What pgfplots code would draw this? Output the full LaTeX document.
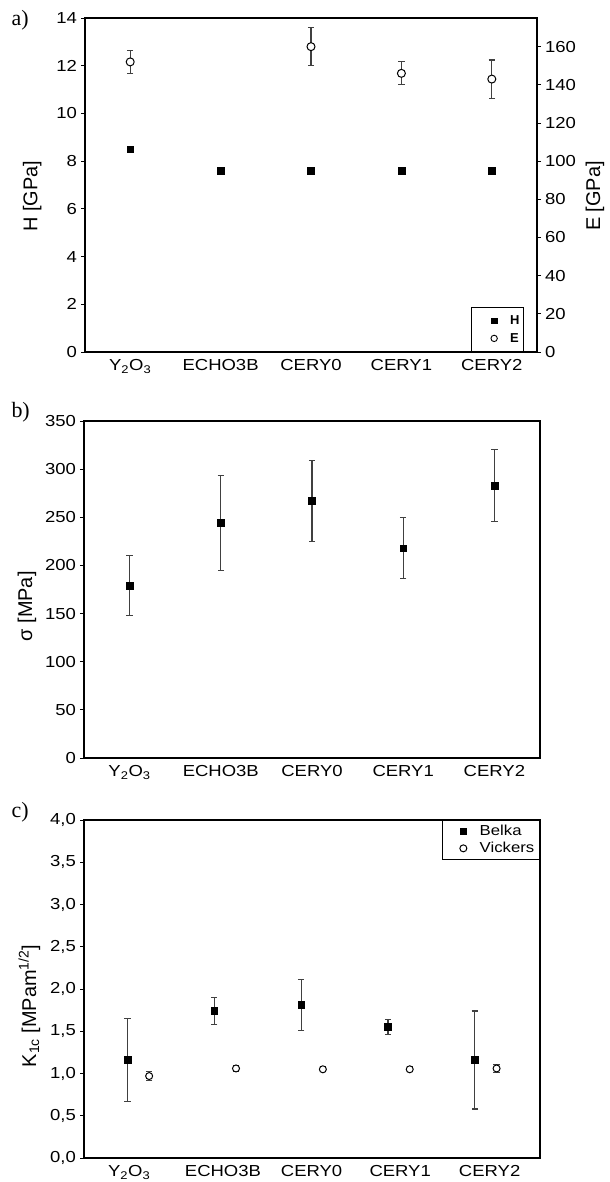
\documentclass[border=0pt]{standalone}
\usepackage{fontspec}
\setmainfont{Liberation Sans}
\newfontfamily\serifpanel{Liberation Serif}
\usepackage{pgfplots}
\usepackage{pgfplotstable}
\pgfplotsset{compat=1.18}

% panel a
\pgfplotstableread{
x y
1 8.5
2 7.6
3 7.6
4 7.6
5 7.6
}\Hdata
\pgfplotstableread{
x y ey
1 152 6
3 160 10
4 146 6
5 143 10
}\Edata
% panel b
\pgfplotstableread{
x y ey
1 179 31
2 244 49
3 267 42
4 218 32
5 283 37
}\Sdata
% panel c
\pgfplotstableread{
x y ey
1 1.16 0.49
2 1.74 0.16
3 1.81 0.30
4 1.55 0.09
5 1.16 0.58
}\Bdata
\pgfplotstableread{
x y ey
1.25 0.97 0.05
2.25 1.06 0.04
3.25 1.05 0.03
4.25 1.05 0.03
5.25 1.06 0.05
}\Vdata

\pgfplotsset{
  panel/.style={
    scale only axis,
    xmin=0.5, xmax=5.5,
    xtick={1,2,3,4,5},
    xticklabels={Y\textsubscript{2}O\textsubscript{3},ECHO3B,CERY0,CERY1,CERY2},
    major x tick style={draw=none},
    ytick pos=left,
    tick align=outside,
    major tick length=4bp,
    tick style={black, line width=0.9bp},
    axis line style={line width=1.2bp},
    tick label style={font=\fontsize{16}{19}\selectfont, xscale=1.16},
    label style={font=\fontsize{20}{23}\selectfont},
    /pgf/number format/assume math mode=true,
    clip=false,
  },
  sq/.style={only marks, mark=square*, mark size=3.4bp, black},
  circ/.style={only marks, mark=*, mark size=4bp, black, mark options={fill=white, line width=1bp}},
  ebar/.style={error bars/.cd, y dir=both, y explicit,
    error bar style={line width=1.1bp, black!75},
    error mark options={rotate=90, mark size=3.2bp, line width=1.1bp, black!75},
    /pgfplots/.cd},
}

\begin{document}
\begin{tikzpicture}
\path[use as bounding box] (0,0) rectangle (610bp,-1182bp);

\node[font=\serifpanel\fontsize{22}{24}\selectfont, anchor=west] at (8bp,-20bp) {a)};
\node[font=\serifpanel\fontsize{22}{24}\selectfont, anchor=west] at (8bp,-412bp) {b)};
\node[font=\serifpanel\fontsize{22}{24}\selectfont, anchor=west] at (8bp,-812bp) {c)};

% ---- a) H
\begin{axis}[panel,
  at={(85bp,-352bp)}, anchor=south west,
  width=452bp, height=334bp,
  ymin=0, ymax=14, ytick={0,2,...,14},
  ylabel={H [GPa]},
  ylabel style={at={(axis description cs:-0.117,0.467)}, anchor=center},
]
\addplot[sq] table[x=x, y=y] {\Hdata};
\end{axis}

% ---- a) E
\begin{axis}[panel,
  at={(85bp,-352bp)}, anchor=south west,
  width=452bp, height=334bp,
  axis x line=none, axis y line*=right, ytick pos=right,
  ymin=0, ymax=175, ytick={0,20,...,160},
  ylabel={E [GPa]},
  ylabel style={at={(axis description cs:1.128,0.467)}, anchor=center},
  legend style={at={(0.971,0)}, anchor=south east, draw=black, line width=0.8bp,
    font=\bfseries\fontsize{13}{15}\selectfont, inner xsep=2bp, inner ysep=6bp,
    row sep=3bp},
  legend image code/.code={\path[draw=none] (-21bp,0) -- (14bp,0); \draw[#1] plot[only marks] coordinates {(0bp,0bp)};},
  legend cell align=left,
]
\addlegendimage{only marks, mark=square*, mark size=2.8bp, black}
\addlegendentry{H}
\addplot[circ, forget plot, ebar] table[x=x, y=y, y error=ey] {\Edata};
\addlegendimage{only marks, mark=*, mark size=3.2bp, black, mark options={fill=white, line width=0.9bp}}
\addlegendentry{E}
\end{axis}

% ---- b)
\begin{axis}[panel,
  at={(84bp,-758bp)}, anchor=south west,
  width=456bp, height=337bp,
  ymin=0, ymax=350, ytick={0,50,...,350},
  ylabel={σ [MPa]},
  ylabel style={at={(axis description cs:-0.125,0.45)}, anchor=center},
]
\addplot[sq, ebar] table[x=x, y=y, y error=ey] {\Sdata};
\end{axis}

% ---- c)
\begin{axis}[panel,
  at={(84bp,-1158bp)}, anchor=south west,
  width=456bp, height=338bp,
  xmin=0.5, xmax=5.75,
  xtick={1.02,2.10,3.12,4.14,5.17},
  xticklabels={Y\textsubscript{2}O\textsubscript{3},ECHO3B,CERY0,CERY1,\raisebox{3bp}{CERY2}},
  ymin=0, ymax=4, ytick={0,0.5,...,4},
  yticklabel style={/pgf/number format/.cd, use comma, fixed, fixed zerofill, precision=1},
  ylabel={K\textsubscript{1c} [MPam\textsuperscript{1/2}]},
  ylabel style={at={(axis description cs:-0.12,0.45)}, anchor=center},
  legend style={at={(1,1)}, anchor=north east, draw=black, line width=0.8bp,
    font=\fontsize{14.5}{17}\selectfont, inner xsep=3bp, inner ysep=3bp, row sep=1bp,
    nodes={xscale=1.16}},
  legend image code/.code={\path[draw=none] (-18bp,0) -- (14bp,0); \draw[#1] plot[only marks] coordinates {(0bp,0bp)};},
  legend cell align=left,
]
\addplot[sq, ebar] table[x=x, y=y, y error=ey] {\Bdata};
\addlegendentry{Belka}
\addplot[circ, mark size=3.5bp, ebar] table[x=x, y=y, y error=ey] {\Vdata};
\addlegendentry{Vickers}
\end{axis}
\end{tikzpicture}
\end{document}
